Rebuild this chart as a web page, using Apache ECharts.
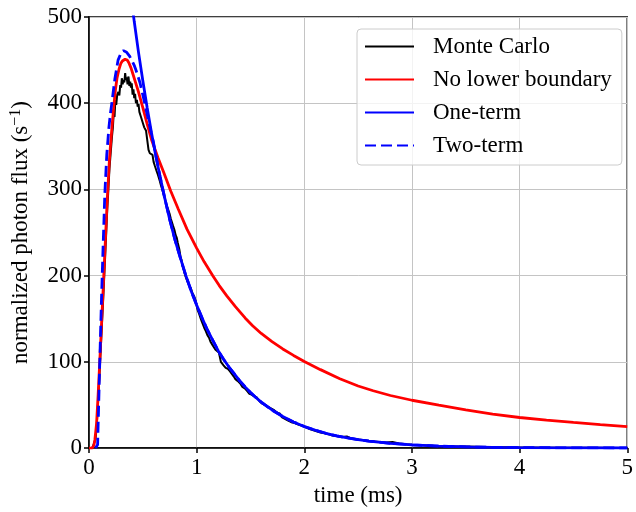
<!DOCTYPE html>
<html>
<head>
<meta charset="utf-8">
<script src="https://cdn.jsdelivr.net/npm/echarts@6/dist/echarts.min.js"></script>
<style>html,body{margin:0;padding:0;background:#fff;}#c{width:636px;height:512px;}</style>
</head>
<body>
<div id="c"></div>
<script>
// ---- data (time in ms, flux in s^-1) ----
var xTicks = [0, 1, 2, 3, 4, 5];
var yTicks = [0, 100, 200, 300, 400, 500];
var seriesNames = ['Monte Carlo', 'No lower boundary', 'One-term', 'Two-term'];

var monteCarlo = [
  [0.00,0],[0.03,0],[0.045,2],[0.06,10],[0.07,22],[0.085,55],[0.1,92],[0.115,130],[0.13,168],[0.14,195],
  [0.15,222],[0.16,250],[0.17,278],[0.18,300],[0.19,324],[0.2,340],[0.214,362],[0.222,372],[0.23,390],[0.237,384],
  [0.245,404],[0.253,398],[0.262,410],[0.273,413],[0.282,409],[0.29,421],[0.298,418],[0.305,429],[0.313,422],[0.32,427],
  [0.328,424],[0.336,435],[0.343,427],[0.35,430],[0.358,422],[0.367,431],[0.375,420],[0.383,425],[0.39,418],[0.397,423],
  [0.405,410],[0.413,416],[0.42,406],[0.428,411],[0.436,400],[0.445,404],[0.452,396],[0.46,399],[0.468,390],[0.475,392],
  [0.483,384],[0.49,386],[0.498,378],[0.505,380],[0.513,372],[0.52,374],[0.53,368],[0.54,369],[0.548,366],[0.553,346],
  [0.565,342],[0.58,343],[0.59,340],[0.6,332],[0.61,328],[0.626,322],[0.64,317],[0.657,310],[0.67,304],[0.68,302],
  [0.69,296],[0.702,291],[0.715,284],[0.725,282],[0.737,276],[0.748,272],[0.76,266],[0.77,264],[0.78,258],[0.794,253],
  [0.805,247],[0.815,244],[0.825,238],[0.84,230],[0.85,222],[0.86,218],[0.87,211],[0.88,207],[0.89,202],[0.9,198],
  [0.915,193],[0.93,189],[0.947,185],[0.96,180],[0.977,176],[0.99,171],[1.0,165],[1.01,160],[1.025,155],[1.038,150],
  [1.05,146],[1.06,143],[1.072,139],[1.084,136],[1.1,131],[1.115,128],[1.13,123],[1.145,120],[1.16,117],[1.175,114],
  [1.19,113],[1.206,111],[1.215,106],[1.225,100],[1.236,98],[1.25,96],[1.27,93],[1.29,92],[1.31,89],[1.328,88],
  [1.345,83],[1.36,80],[1.38,78],[1.405,75],[1.425,71],[1.45,69],[1.47,66],[1.49,63],[1.51,62],[1.535,60],
  [1.557,59],[1.58,55],[1.605,52],[1.634,50],[1.66,48],[1.69,46],[1.72,44],[1.75,41],[1.765,43],[1.775,40],
  [1.79,36],[1.82,34],[1.85,32],[1.88,30],[1.91,29],[1.95,27],[2.0,25],[2.05,22],[2.1,20],[2.15,18],
  [2.21,16.5],[2.25,15],[2.3,14],[2.35,13],[2.395,13.5],[2.44,11],[2.5,10],[2.56,9],[2.62,8],[2.7,7.2],
  [2.76,6.5],[2.82,7],[2.88,5.3],[2.95,4.5],[3.0,4],[3.1,3.3],[3.2,2.8],[3.3,2.4],[3.4,2],[3.5,1.8],
  [3.7,1.3],[3.9,0.9],[4.1,0.7],[4.4,0.4],[4.7,0.3],[5.0,0.2]
];

var noLowerBoundary = [
  [0,0],[0.03,0],[0.045,3],[0.055,10],[0.07,28],[0.085,62],[0.1,100],[0.115,140],[0.13,180],[0.15,235],
  [0.17,290],[0.19,335],[0.2,352],[0.214,373],[0.23,396],[0.245,415],[0.26,429],[0.28,440],[0.295,446],[0.31,449],
  [0.335,451],[0.355,450],[0.37,447],[0.39,441],[0.41,433],[0.435,423],[0.46,413],[0.5,395],[0.54,376],[0.58,358],
  [0.64,337],[0.69,321],[0.76,298],[0.83,277],[0.91,254],[1.0,232],[1.07,216],[1.15,200],[1.21,188.5],[1.28,176.5],
  [1.36,164],[1.45,151],[1.52,142],[1.6,133],[1.7,123.5],[1.8,115],[1.9,107.5],[2.0,100.5],[2.15,91],[2.33,80.5],
  [2.5,72],[2.64,66.5],[2.8,61],[3.0,55.5],[3.25,49.8],[3.5,44.3],[3.75,39.5],[4.0,35.5],[4.25,32.4],[4.5,29.8],
  [4.75,27.3],[5.0,25]
];

var oneTerm = [
  [0.38,534],[0.42,495],[0.46,459],[0.5,426],[0.54,395],[0.58,366],[0.62,339],[0.66,315],[0.7,292],[0.75,265],
  [0.8,241],[0.85,220],[0.9,200],[0.95,182],[1.0,166],[1.05,151],[1.1,137],[1.15,125],[1.2,113],[1.25,103],
  [1.3,94],[1.35,86],[1.4,78],[1.45,71],[1.5,64.5],[1.55,58.7],[1.6,53.4],[1.7,44.2],[1.8,36.6],[1.9,30.3],
  [2.0,25],[2.1,20.8],[2.2,17.2],[2.3,14.2],[2.4,11.8],[2.5,9.8],[2.6,8.1],[2.8,5.6],[3.0,3.8],[3.25,2.3],
  [3.5,1.4],[3.75,0.9],[4.0,0.6],[4.5,0.25],[5.0,0.1]
];

var twoTerm = [
  [0.06,0],[0.075,0.5],[0.08,4],[0.089,46],[0.1,100],[0.116,173],[0.13,230],[0.147,295],[0.165,340],[0.185,372],
  [0.2,389],[0.214,402],[0.24,428],[0.27,450],[0.3,459],[0.32,461],[0.35,459],[0.375,455],[0.397,450],[0.42,444],
  [0.44,437],[0.473,424],[0.505,407],[0.535,390],[0.57,370],[0.6,354],[0.62,340],[0.66,315],[0.7,292],[0.75,265],
  [0.8,241],[0.85,220],[0.9,200],[0.95,182],[1.0,166],[1.05,151],[1.1,137],[1.15,125],[1.2,113],[1.25,103],
  [1.3,94],[1.35,86],[1.4,78],[1.45,71],[1.5,64.5],[1.55,58.7],[1.6,53.4],[1.7,44.2],[1.8,36.6],[1.9,30.3],
  [2.0,25],[2.1,20.8],[2.2,17.2],[2.3,14.2],[2.4,11.8],[2.5,9.8],[2.6,8.1],[2.8,5.6],[3.0,3.8],[3.25,2.3],
  [3.5,1.4],[3.75,0.9],[4.0,0.6],[4.5,0.25],[5.0,0.1]
];

var FONT = "'Liberation Serif', 'DejaVu Serif', serif";
var FS = 23;
var chart = echarts.init(document.getElementById('c'), null, {renderer: 'canvas'});

var axisCommon = {
  axisLine: {show: true, onZero: false, lineStyle: {color: '#000', width: 1.5}},
  axisTick: {show: true, inside: false, length: 5, lineStyle: {color: '#000', width: 1.5}},
  splitLine: {show: true, lineStyle: {color: '#c4c4c4', width: 1}},
  axisLabel: {color: '#000', fontFamily: FONT, fontSize: FS},
  nameTextStyle: {color: '#000', fontFamily: FONT, fontSize: FS}
};

chart.setOption({
  animation: false,
  backgroundColor: '#fff',
  grid: {left: 89, right: 3, top: 17, bottom: 62, show: true, borderColor: '#000', borderWidth: 1.5, backgroundColor: 'transparent'},
  xAxis: Object.assign({}, axisCommon, {
    type: 'value', min: xTicks[0], max: xTicks[xTicks.length - 1], interval: 1,
    name: 'time (ms)', nameLocation: 'middle', nameGap: 33,
    axisLabel: Object.assign({}, axisCommon.axisLabel, {margin: 8})
  }),
  yAxis: Object.assign({}, axisCommon, {
    type: 'value', min: yTicks[0], max: yTicks[yTicks.length - 1], interval: 100,
    name: 'normalized photon flux (s{sup|−1})', nameLocation: 'middle', nameGap: 56,
    nameTextStyle: {color: '#000', fontFamily: FONT, fontSize: FS,
      rich: {sup: {fontFamily: FONT, fontSize: 16, color: '#000', padding: [0, 0, 9, 0]}}},
    axisLabel: Object.assign({}, axisCommon.axisLabel, {margin: 7})
  }),
  legend: {
    orient: 'vertical', left: 357, top: 29,
    itemWidth: 49, itemHeight: 14, itemGap: 10,
    padding: [6, 10, 8, 7],
    backgroundColor: 'rgba(255,255,255,0.8)', borderColor: '#cccccc', borderWidth: 1, borderRadius: 4,
    itemStyle: {opacity: 0},
    textStyle: {fontFamily: FONT, fontSize: 23, color: '#000', padding: [0, 0, 0, 14]},
    data: seriesNames
  },
  series: [
    {name: seriesNames[0], type: 'line', data: monteCarlo, symbol: 'none', showSymbol: false,
     lineStyle: {color: '#000', width: 2}, itemStyle: {color: '#000'}, z: 2},
    {name: seriesNames[1], type: 'line', data: noLowerBoundary, symbol: 'none', showSymbol: false,
     lineStyle: {color: '#ff0000', width: 2.8}, itemStyle: {color: '#ff0000'}, z: 3},
    {name: seriesNames[2], type: 'line', data: oneTerm, symbol: 'none', showSymbol: false,
     lineStyle: {color: '#0000ff', width: 2.8}, itemStyle: {color: '#0000ff'}, z: 4},
    {name: seriesNames[3], type: 'line', data: twoTerm, symbol: 'none', showSymbol: false,
     lineStyle: {color: '#0000ff', width: 2.8, type: [11, 5]}, itemStyle: {color: '#0000ff'}, z: 5}
  ]
});
</script>
</body>
</html>
